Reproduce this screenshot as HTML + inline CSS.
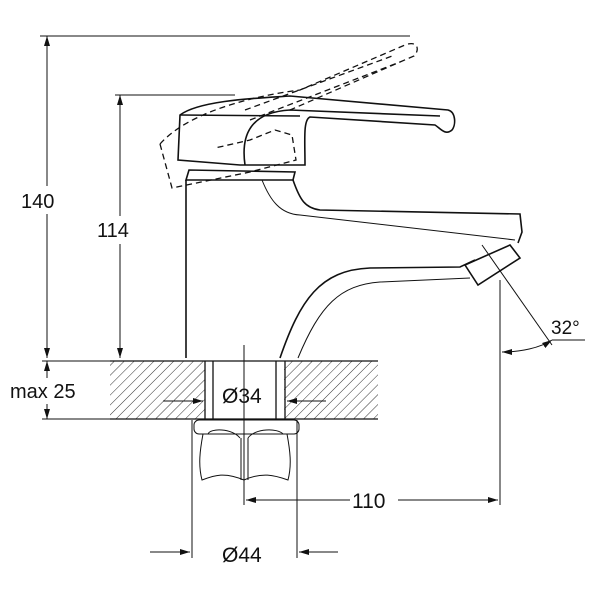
<!DOCTYPE html>
<html><head><meta charset="utf-8"><style>
html,body{margin:0;padding:0;background:#fff}
svg{display:block}
text{font-family:"Liberation Sans",sans-serif;fill:#111}
</style></head><body>
<svg width="600" height="600" viewBox="0 0 600 600" xmlns="http://www.w3.org/2000/svg">
<defs>
<pattern id="h" width="7" height="7" patternUnits="userSpaceOnUse" patternTransform="rotate(45)">
<line x1="0" y1="0" x2="0" y2="7" stroke="#333" stroke-width="1"/>
</pattern>
<marker id="a" markerWidth="10" markerHeight="6" refX="10" refY="3" orient="auto-start-reverse" markerUnits="userSpaceOnUse">
<path d="M0,0 L10,3 L0,6 z" fill="#111"/>
</marker>
</defs>
<g fill="none" stroke="#111" stroke-width="1">
<line x1="40" y1="36" x2="410" y2="36"/>
<line x1="115" y1="95" x2="235" y2="95"/>
<line x1="42" y1="361" x2="110" y2="361"/>
<line x1="42" y1="419" x2="110" y2="419"/>
<line x1="47" y1="36" x2="47" y2="358" marker-start="url(#a)" marker-end="url(#a)"/>
<line x1="120" y1="95" x2="120" y2="358" marker-start="url(#a)" marker-end="url(#a)"/>
<line x1="47" y1="361" x2="47" y2="419" marker-start="url(#a)" marker-end="url(#a)"/>
</g>
<rect x="20" y="186" width="54" height="28" fill="#fff"/>
<text x="21" y="208" font-size="20">140</text>
<rect x="96" y="216" width="54" height="28" fill="#fff"/>
<text x="97" y="237" font-size="20">114</text>
<rect x="8" y="378" width="84" height="26" fill="#fff"/>
<text x="10" y="398" font-size="20">max 25</text>

<rect x="110" y="361" width="95" height="58" fill="url(#h)"/>
<rect x="284" y="361" width="94" height="58" fill="url(#h)"/>
<g fill="none" stroke="#111" stroke-width="1.3">
<line x1="110" y1="361" x2="378" y2="361"/>
<line x1="110" y1="419" x2="378" y2="419"/>
<line x1="205" y1="361" x2="205" y2="419"/>
<line x1="213" y1="361" x2="213" y2="419"/>
<line x1="276" y1="361" x2="276" y2="419"/>
<line x1="285" y1="361" x2="285" y2="419"/>
</g>
<rect x="216" y="380" width="58" height="28" fill="#fff"/>
<text x="222" y="403" font-size="21">Ø34</text>
<g stroke="#111" stroke-width="1" fill="none">
<line x1="163" y1="401" x2="203" y2="401" marker-end="url(#a)"/>
<line x1="326" y1="401" x2="287" y2="401" marker-end="url(#a)"/>
<line x1="244" y1="345" x2="244" y2="505"/>
<rect x="194" y="420" width="105" height="14" rx="5"/>
<path d="M203,434 C200,450 198,465 202,480 C215,475 225,472 244,480 C262,472 274,475 288,480 C292,465 290,450 287,434"/>
<path d="M208,434 C210,428 232,428 240,438 M248,438 C255,428 278,428 283,434"/>
<line x1="241" y1="438" x2="241" y2="480"/>
<line x1="248" y1="438" x2="248" y2="480"/>
<line x1="192" y1="420" x2="192" y2="558"/>
<line x1="297" y1="420" x2="297" y2="558"/>
<line x1="150" y1="552" x2="190" y2="552" marker-end="url(#a)"/>
<line x1="338" y1="552" x2="299" y2="552" marker-end="url(#a)"/>
<line x1="500" y1="280" x2="500" y2="505"/>
<line x1="246" y1="500" x2="350" y2="500" marker-start="url(#a)"/>
<line x1="398" y1="500" x2="498" y2="500" marker-end="url(#a)"/>
</g>
<text x="222" y="562" font-size="21">Ø44</text>
<text x="352" y="508" font-size="21">110</text>

<g fill="none" stroke="#111" stroke-width="1.6">
<line x1="186" y1="180" x2="186" y2="358"/>
<path d="M186,180 L293,180 L295,172 L189,170 Z"/>
<path d="M180,115 C200,100 260,98 290,96 L448,110 C456,112 456,125 452,130 C445,136 440,128 435,125 L310,117 C303,120 305,140 305,165 L240,165 L178,160 Z"/>
<path d="M180,115 L300,116"/>
<path d="M245,165 C240,130 255,112 290,110 L440,116"/>
<path d="M293,180 C300,200 305,208 320,210 L520,214 L522,232 L518,243"/>
<path d="M262,180 C270,200 280,214 300,215 L515,240" stroke-width="1"/>
<path d="M280,358 C300,300 320,270 370,268 L460,267 L475,260"/>
<path d="M298,358 C320,305 340,285 380,282 L470,278" stroke-width="1"/>
<path d="M465,265 L510,245 L520,258 L478,285 Z"/>
</g>
<g fill="none" stroke="#111" stroke-width="1.3" stroke-dasharray="6,4">
<path d="M160,144 L172,188 L250,172 L296,160 L292,135 L275,130 L250,140 L215,148"/>
<path d="M160,144 C190,110 260,95 300,90 L405,45 C418,40 420,50 414,56 L400,62 L290,110"/>
<path d="M245,110 L395,55"/>
<path d="M250,120 L400,62"/>
</g>
<g fill="none" stroke="#111" stroke-width="1">
<line x1="482" y1="245" x2="552" y2="345"/>
<path d="M502,352 C520,352 540,348 552,340" marker-start="url(#a)" marker-end="url(#a)"/>
<line x1="552" y1="340" x2="585" y2="340"/>
</g>
<text x="551" y="334" font-size="19">32°</text>
</svg>
</body></html>
